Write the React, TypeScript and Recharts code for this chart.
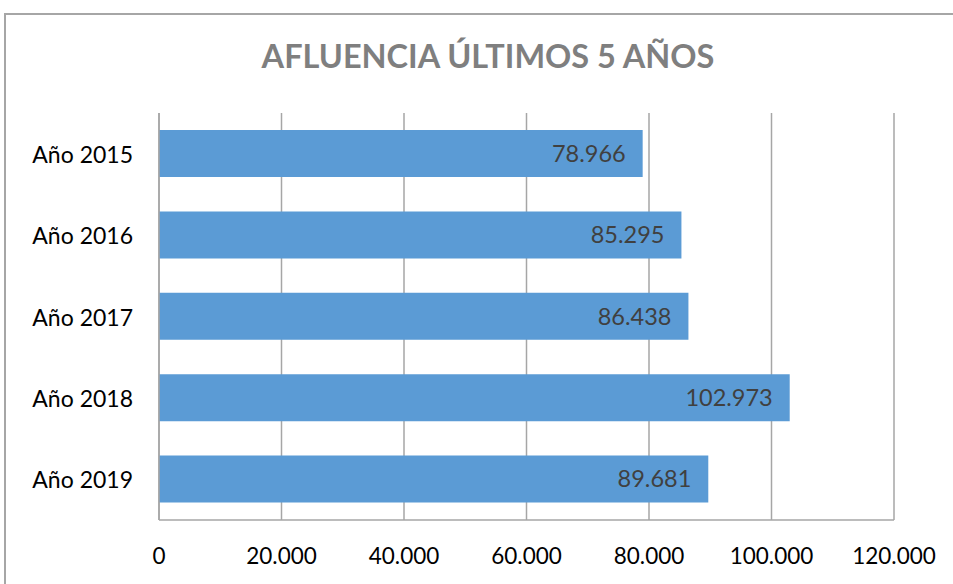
import React from "react";
import { BarChart, Bar, XAxis, YAxis, CartesianGrid, LabelList } from "recharts";

const years = ["Año 2015", "Año 2016", "Año 2017", "Año 2018", "Año 2019"];
const visitors = [78966, 85295, 86438, 102973, 89681];
const xTicks = [0, 20000, 40000, 60000, 80000, 100000, 120000];

const data = years.map((year, i) => ({ year, visitors: visitors[i] }));

const fmt = (v: number) =>
  String(Math.round(v)).replace(/\B(?=(\d{3})+(?!\d))/g, ".");

const font = "Lato, 'Open Sans', sans-serif";

const XTick = (props: any) => {
  const { x, y, payload } = props;
  return (
    <text x={x} y={y + 27} textAnchor="middle" dominantBaseline="central"
      fill="#000" fontSize={22.5} fontFamily={font}>
      {fmt(payload.value)}
    </text>
  );
};

const YTick = (props: any) => {
  const { x, y, payload } = props;
  return (
    <text x={x - 18} y={y} textAnchor="end" dominantBaseline="central"
      fill="#000" fontSize={23} fontFamily={font}>
      {payload.value}
    </text>
  );
};

export default function App() {
  return (
    <div style={{ position: "absolute", left: 0, top: 0, width: 953, height: 584, overflow: "hidden", background: "#fff" }}>
      <div style={{ position: "absolute", left: 4, top: 13, width: 1000, height: 700, border: "2px solid #a6a6a6", boxSizing: "border-box" }} />
      <div style={{ position: "absolute", left: 0, top: 36, width: 976, textAlign: "center", fontFamily: font, fontWeight: 700, fontSize: 32.5, color: "#7f7f7f" }}>
        AFLUENCIA ÚLTIMOS 5 AÑOS
      </div>
      <div style={{ position: "absolute", left: 0, top: 0 }}>
        <BarChart
          width={953}
          height={584}
          data={data}
          layout="vertical"
          margin={{ top: 113, right: 59, bottom: 0, left: 0 }}
        >
          <CartesianGrid horizontal={false} vertical={true} stroke="#a6a6a6" strokeWidth={1.5} />
          <XAxis
            type="number"
            domain={[0, 120000]}
            ticks={xTicks}
            interval={0}
            height={64}
            axisLine={{ stroke: "#a6a6a6", strokeWidth: 1.5 }}
            tickLine={false}
            tick={<XTick />}
          />
          <YAxis
            type="category"
            dataKey="year"
            width={159}
            axisLine={{ stroke: "#a6a6a6", strokeWidth: 1.5 }}
            tickLine={false}
            tick={<YTick />}
          />
          <Bar dataKey="visitors" fill="#5b9bd5" barSize={47} isAnimationActive={false}>
            <LabelList
              dataKey="visitors"
              position="insideRight"
              offset={17}
              formatter={(v: any) => fmt(Number(v))}
              fill="#404040"
              fontSize={23.5}
              fontFamily={font}
            />
          </Bar>
        </BarChart>
      </div>
    </div>
  );
}
